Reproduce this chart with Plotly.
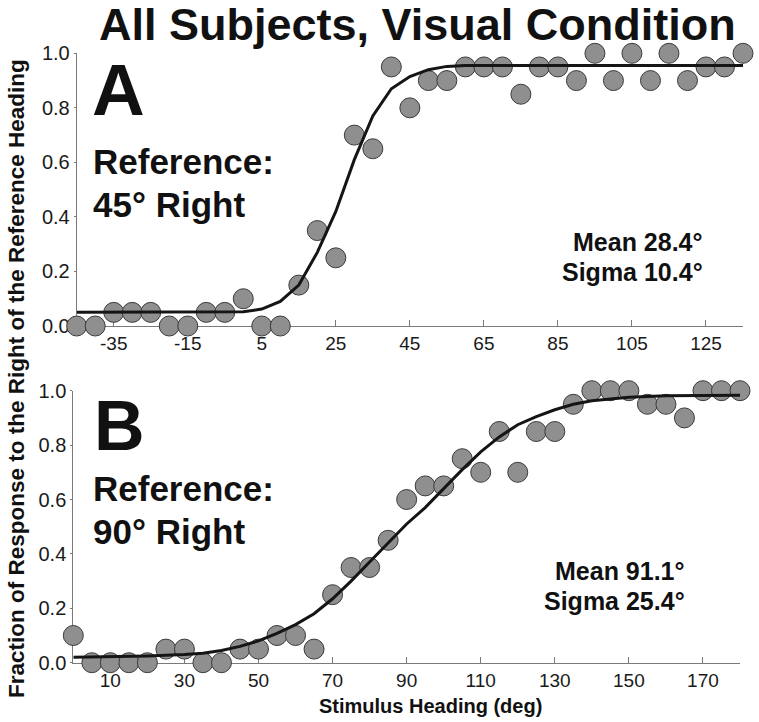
import plotly.graph_objects as go

# ---------------- data ----------------
headA = [-45, -40, -35, -30, -25, -20, -15, -10, -5, 0, 5, 10, 15, 20, 25, 30, 35, 40,
         45, 50, 55, 60, 65, 70, 75, 80, 85, 90, 95, 100, 105, 110, 115, 120, 125, 130, 135]
fracA = [0.0, 0.0, 0.05, 0.05, 0.05, 0.0, 0.0, 0.05, 0.05, 0.10, 0.0, 0.0, 0.15, 0.35, 0.25, 0.70, 0.65, 0.95,
         0.80, 0.90, 0.90, 0.95, 0.95, 0.95, 0.85, 0.95, 0.95, 0.90, 1.0, 0.90, 1.0, 0.90, 1.0, 0.90, 0.95, 0.95, 1.0]
fitA_x = [-45, 0, 5, 10, 15, 20, 25, 30, 35, 40, 45, 50, 55, 60, 135]
fitA_y = [0.05, 0.052, 0.062, 0.09, 0.15, 0.27, 0.42, 0.61, 0.77, 0.87, 0.915, 0.94, 0.952, 0.955, 0.955]

headB = [0, 5, 10, 15, 20, 25, 30, 35, 40, 45, 50, 55, 60, 65, 70, 75, 80, 85, 90,
         95, 100, 105, 110, 115, 120, 125, 130, 135, 140, 145, 150, 155, 160, 165, 170, 175, 180]
fracB = [0.10, 0.0, 0.0, 0.0, 0.0, 0.05, 0.05, 0.0, 0.0, 0.05, 0.05, 0.10, 0.10, 0.05, 0.25, 0.35, 0.35, 0.45, 0.60,
         0.65, 0.65, 0.75, 0.70, 0.85, 0.70, 0.85, 0.85, 0.95, 1.0, 1.0, 1.0, 0.95, 0.95, 0.90, 1.0, 1.0, 1.0]
fitB_x = [0, 10, 20, 30, 35, 40, 45, 50, 55, 60, 65, 70, 75, 80, 85, 90, 95, 100, 105, 110,
          115, 120, 125, 130, 135, 140, 150, 160, 180]
fitB_y = [0.02, 0.022, 0.025, 0.03, 0.035, 0.045, 0.06, 0.08, 0.108, 0.14, 0.18, 0.235, 0.30, 0.37, 0.44,
          0.51, 0.57, 0.64, 0.71, 0.775, 0.83, 0.875, 0.905, 0.93, 0.95, 0.963, 0.976, 0.981, 0.983]

ticksA = [-35, -15, 5, 25, 45, 65, 85, 105, 125]
ticklabelsA = ["-35", "-15", "5", "25", "45", "65", "85", "105", "125"]
ticksB = [10, 30, 50, 70, 90, 110, 130, 150, 170]
ticklabelsB = ["10", "30", "50", "70", "90", "110", "130", "150", "170"]
ticksY = [0.0, 0.2, 0.4, 0.6, 0.8, 1.0]
ticklabelsY = ["0.0", "0.2", "0.4", "0.6", "0.8", "1.0"]

title = "All Subjects, Visual Condition"
ytitle = "Fraction of Response to the Right of the Reference Heading"
xtitle = "Stimulus Heading (deg)"

# ---------------- layout helpers ----------------
W_FIG, H_FIG = 759, 722
L, R, T, B = 73, 16, 53, 59
PW = W_FIG - L - R
PH = H_FIG - T - B


def px(x):
    return (x - L) / PW


def py(y):
    return (H_FIG - B - y) / PH


FONT = "Liberation Sans, Arial, Helvetica, sans-serif"
INK = "#111111"
MARK = dict(size=20, color="#8f8f8f", line=dict(color="#3a3a3a", width=1))

fig = go.Figure()
fig.add_trace(go.Scatter(x=headA, y=fracA, mode="markers", marker=MARK, cliponaxis=False,
                         xaxis="x", yaxis="y", showlegend=False))
fig.add_trace(go.Scatter(x=fitA_x, y=fitA_y, mode="lines", line=dict(color="#151515", width=3),
                         cliponaxis=False, xaxis="x", yaxis="y", showlegend=False))
fig.add_trace(go.Scatter(x=headB, y=fracB, mode="markers", marker=MARK, cliponaxis=False,
                         xaxis="x2", yaxis="y2", showlegend=False))
fig.add_trace(go.Scatter(x=fitB_x, y=fitB_y, mode="lines", line=dict(color="#151515", width=3),
                         cliponaxis=False, xaxis="x2", yaxis="y2", showlegend=False))

axcommon = dict(showgrid=False, zeroline=False, showline=True, linecolor="#7a7a7a", linewidth=1,
                tickcolor="#7a7a7a", layer="below traces", automargin=False)
xfont = dict(family=FONT, size=19, color="#1a1a1a")
yfont = dict(family=FONT, size=20, color="#1a1a1a")

fig.update_layout(
    template="none",
    width=W_FIG, height=H_FIG,
    margin=dict(l=L, r=R, t=T, b=B, autoexpand=False),
    paper_bgcolor="white", plot_bgcolor="white",
    font=dict(family=FONT, color=INK),
    xaxis=dict(domain=[px(76.7), px(743)], range=[-45, 135], tickvals=ticksA, ticktext=ticklabelsA,
               ticks="inside", ticklen=6, anchor="y", tickfont=xfont, **axcommon),
    yaxis=dict(domain=[py(326), py(53.3)], range=[0, 1], tickvals=ticksY, ticktext=ticklabelsY,
               ticks="outside", ticklen=2, anchor="x", tickfont=yfont, **axcommon),
    xaxis2=dict(domain=[px(73.3), px(740)], range=[0, 180], tickvals=ticksB, ticktext=ticklabelsB,
                ticks="inside", ticklen=6, anchor="y2", tickfont=xfont, **axcommon),
    yaxis2=dict(domain=[py(662.7), py(390.7)], range=[0, 1], tickvals=ticksY, ticktext=ticklabelsY,
                ticks="outside", ticklen=2, anchor="x2", tickfont=yfont, **axcommon),
)

ann = []


def add_text(text, x, y, size, xanchor="left", yanchor="middle", angle=0, pad=1):
    ann.append(dict(text=f"<b>{text}</b>", x=px(x), y=py(y), xref="paper", yref="paper",
                    xanchor=xanchor, yanchor=yanchor, showarrow=False, textangle=angle,
                    borderpad=pad, font=dict(family=FONT, size=size, color=INK)))


add_text(title, 417, 25, 45, xanchor="center")
add_text(ytitle, 16, 379, 22.5, xanchor="center", angle=-90)
add_text(xtitle, 430, 706, 20, xanchor="center")

add_text("A", 90, 89, 73)
add_text("Reference:", 91, 161, 35)
add_text("45° Right", 91, 204, 35)
add_text("Mean 28.4°", 704, 256.5, 25, xanchor="right", yanchor="bottom", pad=0)
add_text("Sigma 10.4°", 704, 256.5, 25, xanchor="right", yanchor="top", pad=0)

add_text("B", 92, 426, 70)
add_text("Reference:", 91, 488, 35)
add_text("90° Right", 91, 531, 35)
add_text("Mean 91.1°", 686, 586, 25, xanchor="right", yanchor="bottom", pad=0)
add_text("Sigma 25.4°", 686, 586, 25, xanchor="right", yanchor="top", pad=0)

fig.update_layout(annotations=ann)
fig.write_html("out.html", config={"displayModeBar": False},
               post_script="document.body.style.margin='0';document.body.style.overflow='hidden';")
